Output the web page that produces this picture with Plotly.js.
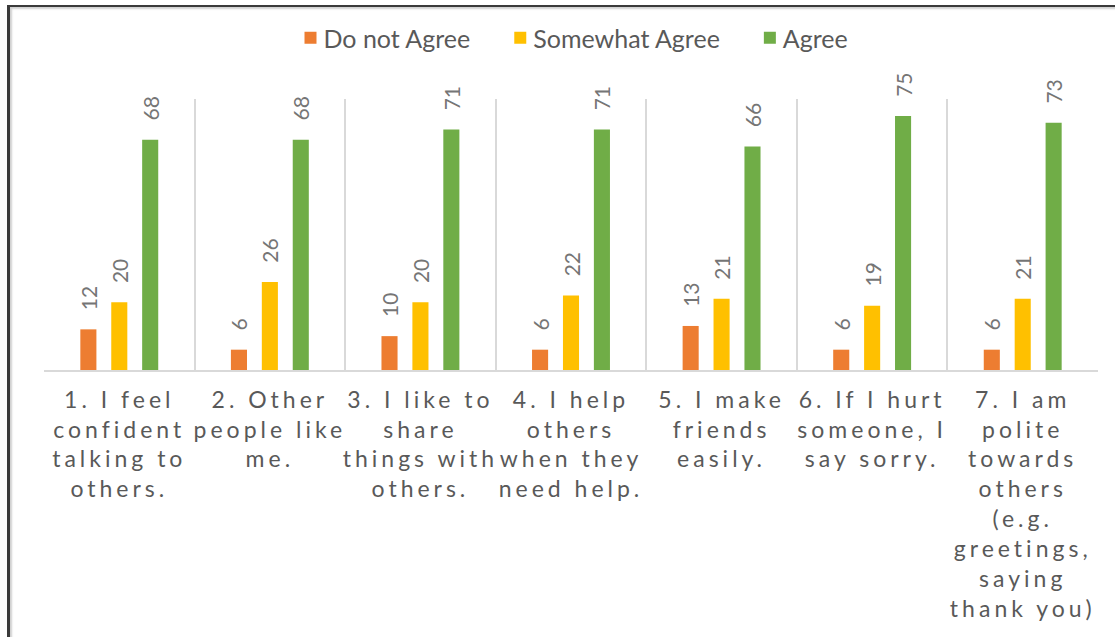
<!DOCTYPE html>
<html>
<head>
<meta charset="utf-8">
<script src="https://cdn.plot.ly/plotly-3.0.1.min.js"></script>
<style>
  html, body { margin: 0; padding: 0; background: #fff; }
  #wrap { position: relative; width: 1115px; height: 637px; overflow: hidden; }
  #chart { position: absolute; left: 0; top: 0; width: 1115px; height: 637px; }
  #frame { position: absolute; left: 7px; top: 5px; width: 1200px; height: 700px;
           border-left: 3px solid #3a3a3a; border-top: 2px solid #3a3a3a;
           box-shadow: inset 2px 2px 2px #d0d0d0; pointer-events: none; }
  .xtick text { letter-spacing: 4px; }
</style>
</head>
<body>
<div id="wrap">
  <div id="chart"></div>
  <div id="frame"></div>
</div>
<script>
const categories = [
  "1. I feel<br>confident<br>talking to<br>others.",
  "2. Other<br>people like<br>me.",
  "3. I like to<br>share<br>things with<br>others.",
  "4. I help<br>others<br>when they<br>need help.",
  "5. I make<br>friends<br>easily.",
  "6. If I hurt<br>someone, I<br>say sorry.",
  "7. I am<br>polite<br>towards<br>others<br>(e.g.<br>greetings,<br>saying<br>thank you)"
];
const seriesNames = ["Do not Agree", "Somewhat Agree", "Agree"];
const doNotAgree = [12, 6, 10, 6, 13, 6, 6];
const somewhatAgree = [20, 26, 20, 22, 21, 19, 21];
const agree = [68, 68, 71, 71, 66, 75, 73];
const colors = ["#ED7D31", "#FFC000", "#70AD47"];

const FONT = "Lato, 'Open Sans', sans-serif";
const seriesValues = [doNotAgree, somewhatAgree, agree];

const traces = seriesValues.map((vals, i) => ({
  type: "bar",
  name: seriesNames[i],
  x: categories,
  y: vals,
  marker: { color: colors[i] },
  texttemplate: "\u00a0\u00a0\u00a0%{y}",
  textposition: "outside",
  textangle: -90,
  constraintext: "none",
  cliponaxis: false,
  textfont: { family: FONT, size: 21, color: "#757575" },
  hoverinfo: "skip"
}));

const layout = {
  width: 1115,
  height: 637,
  margin: { l: 44, r: 17, t: 99, b: 267, pad: 0 },
  paper_bgcolor: "#ffffff",
  plot_bgcolor: "#ffffff",
  barmode: "group",
  bargap: 0.384,
  bargroupgap: 0.48,
  showlegend: true,
  legend: {
    orientation: "h",
    xref: "container", yref: "container",
    x: 0.5, xanchor: "center",
    y: 1 - 38 / 637, yanchor: "middle",
    font: { family: FONT, size: 25, color: "#595959" },
    bgcolor: "rgba(0,0,0,0)"
  },
  xaxis: {
    type: "category",
    tickson: "boundaries",
    showgrid: true,
    gridcolor: "#d9d9d9",
    gridwidth: 2,
    showline: true,
    linecolor: "#d9d9d9",
    linewidth: 2,
    ticks: "",
    tickangle: 0,
    ticklabelstandoff: 8,
    tickfont: { family: FONT, size: 23, color: "#595959" },
    zeroline: false,
    fixedrange: true
  },
  yaxis: {
    range: [0, 80],
    showgrid: false,
    zeroline: false,
    showticklabels: false,
    showline: false,
    ticks: "",
    fixedrange: true
  }
};

Plotly.newPlot("chart", traces, layout, { displayModeBar: false, staticPlot: true }).then(gd => {
  // Excel-like legend spacing: tighter symbol/text gap, wider gap between entries
  gd.querySelectorAll(".legend [clip-path]").forEach(el => el.removeAttribute("clip-path"));
  const items = gd.querySelectorAll(".legend .traces");
  items.forEach((el, i) => {
    const t = el.getAttribute("transform") || "";
    const m = t.match(/translate\(\s*([-\d.]+)[ ,]+([-\d.]+)\s*\)/);
    if (m) {
      const nx = parseFloat(m[1]) + i * 18;
      el.setAttribute("transform", "translate(" + nx + "," + m[2] + ")");
    }
    const txt = el.querySelector("text.legendtext");
    if (txt) txt.setAttribute("x", 33);
  });
});
</script>
</body>
</html>
